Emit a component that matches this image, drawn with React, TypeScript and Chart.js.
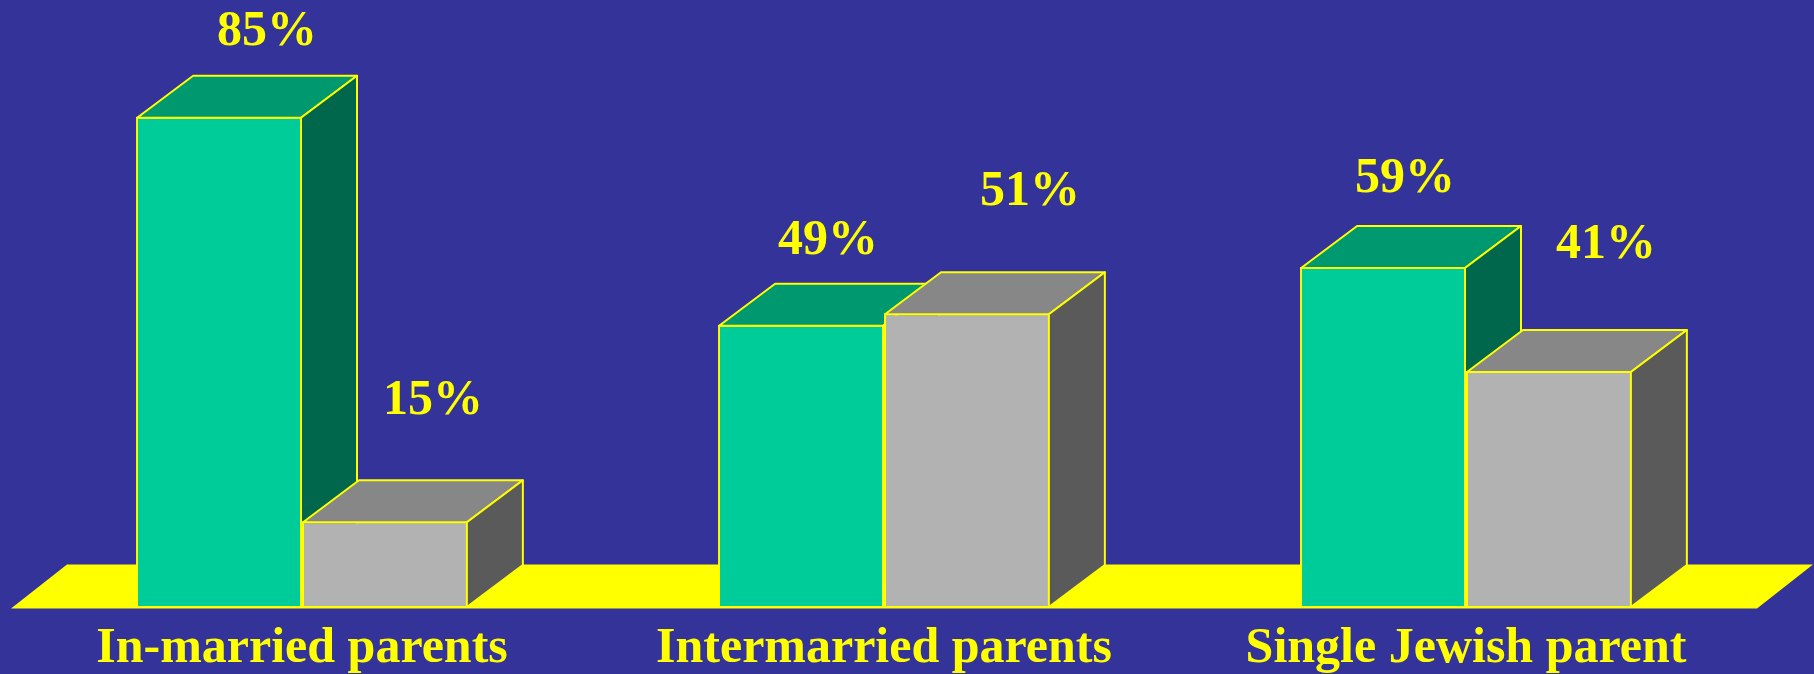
import React, { useEffect, useRef } from "react";
import { Chart, registerables } from "chart.js";

Chart.register(...registerables);

// ---- Data ----
const categories = ["In-married parents", "Intermarried parents", "Single Jewish parent"];
const greenValues = [85, 49, 59];
const greyValues = [15, 51, 41];
const seriesNames = ["Series 1", "Series 2"];
const yMin = 0;
const yMax = 100;

// ---- Style ----
const BG = "#333399";
const YELLOW = "#FFFF00";
const FRONT = ["#00CC99", "#B2B2B2"];
const TOP = ["#00996F", "#878787"];
const SIDE = ["#00664C", "#5A5A5A"];
const DEPTH_X = 56;
const DEPTH_Y = 42;
const FLOOR_DY = 44;
// value-label nudges relative to each bar's front-top centre (per series, per category)
const LABEL_DX = [
  [48, 27, 22],
  [48, 63, 57],
];
const LABEL_DY = [
  [72, 71, 75],
  [107, 108, 113],
];
const AXIS_HEIGHT = 66;
const FONT_FAMILY = "'Liberation Serif', 'Times New Roman', serif";

const floorPlugin = {
  id: "floor3d",
  beforeDatasetsDraw(chart: any) {
    const { ctx, chartArea } = chart;
    const { left, right, bottom } = chartArea;
    ctx.save();
    ctx.fillStyle = YELLOW;
    ctx.beginPath();
    ctx.moveTo(left, bottom + 0.5);
    ctx.lineTo(right, bottom + 0.5);
    ctx.lineTo(right + DEPTH_X, bottom + 0.5 - FLOOR_DY);
    ctx.lineTo(left + DEPTH_X, bottom + 0.5 - FLOOR_DY);
    ctx.closePath();
    ctx.fill();
    ctx.restore();
  },
};

function drawFaces(ctx: any, bar: any, i: number) {
  const { x, y, base, width } = bar.getProps(["x", "y", "base", "width"], true);
  const L = x - width / 2 + 1;
  const R = x + width / 2 - 1;
  const T = y + 1;
  const B = base - 1;
  ctx.save();
  ctx.lineWidth = 2;
  ctx.strokeStyle = YELLOW;
  ctx.lineJoin = "round";
  ctx.beginPath();
  ctx.moveTo(L, T);
  ctx.lineTo(L + DEPTH_X, T - DEPTH_Y);
  ctx.lineTo(R + DEPTH_X, T - DEPTH_Y);
  ctx.lineTo(R, T);
  ctx.closePath();
  ctx.fillStyle = TOP[i];
  ctx.fill();
  ctx.stroke();
  ctx.beginPath();
  ctx.moveTo(R, T);
  ctx.lineTo(R + DEPTH_X, T - DEPTH_Y);
  ctx.lineTo(R + DEPTH_X, B - DEPTH_Y);
  ctx.lineTo(R, B);
  ctx.closePath();
  ctx.fillStyle = SIDE[i];
  ctx.fill();
  ctx.stroke();
  ctx.restore();
}

// Redraw bars in dataset order (left series first) with their 3D faces, then value labels.
const boxesPlugin = {
  id: "boxes3d",
  afterDatasetsDraw(chart: any) {
    const ctx = chart.ctx;
    chart.data.datasets.forEach((ds: any, i: number) => {
      const meta = chart.getDatasetMeta(i);
      meta.data.forEach((bar: any) => {
        bar.draw(ctx, chart.chartArea);
        drawFaces(ctx, bar, i);
      });
    });
    ctx.save();
    ctx.fillStyle = YELLOW;
    ctx.font = `bold 50px ${FONT_FAMILY}`;
    ctx.textAlign = "center";
    ctx.textBaseline = "alphabetic";
    chart.data.datasets.forEach((ds: any, i: number) => {
      const meta = chart.getDatasetMeta(i);
      meta.data.forEach((bar: any, j: number) => {
        ctx.fillText(`${ds.data[j]}%`, bar.x + LABEL_DX[i][j], bar.y - LABEL_DY[i][j]);
      });
    });
    ctx.restore();
  },
};

export default function App() {
  const canvasRef = useRef<HTMLCanvasElement | null>(null);

  useEffect(() => {
    if (!canvasRef.current) return;
    const chart = new Chart(canvasRef.current, {
      type: "bar",
      data: {
        labels: categories,
        datasets: [
          {
            label: seriesNames[0],
            data: greenValues,
            backgroundColor: FRONT[0],
            borderColor: YELLOW,
            borderWidth: 2,
            borderSkipped: false,
          },
          {
            label: seriesNames[1],
            data: greyValues,
            backgroundColor: FRONT[1],
            borderColor: YELLOW,
            borderWidth: 2,
            borderSkipped: false,
          },
        ],
      },
      options: {
        responsive: false,
        animation: false,
        layout: { padding: { left: 11, right: 57, top: 30, bottom: 0 } },
        datasets: { bar: { categoryPercentage: 0.57, barPercentage: 1.0 } },
        plugins: {
          legend: { display: false },
          tooltip: { enabled: false },
          title: { display: false },
        },
        scales: {
          x: {
            grid: { display: false, drawTicks: false },
            border: { display: false },
            afterFit: (scale: any) => {
              scale.height = AXIS_HEIGHT;
            },
            ticks: {
              color: YELLOW,
              padding: 16,
              maxRotation: 0,
              font: { family: FONT_FAMILY, size: 50, weight: "bold", lineHeight: 1 },
            },
          },
          y: { display: false, min: yMin, max: yMax },
        },
      },
      plugins: [floorPlugin, boxesPlugin],
    });
    return () => chart.destroy();
  }, []);

  return (
    <div
      style={{
        position: "absolute",
        left: 0,
        top: 0,
        width: 1814,
        height: 674,
        background: BG,
        overflow: "hidden",
      }}
    >
      <canvas ref={canvasRef} width={1814} height={674} style={{ display: "block" }} />
    </div>
  );
}
